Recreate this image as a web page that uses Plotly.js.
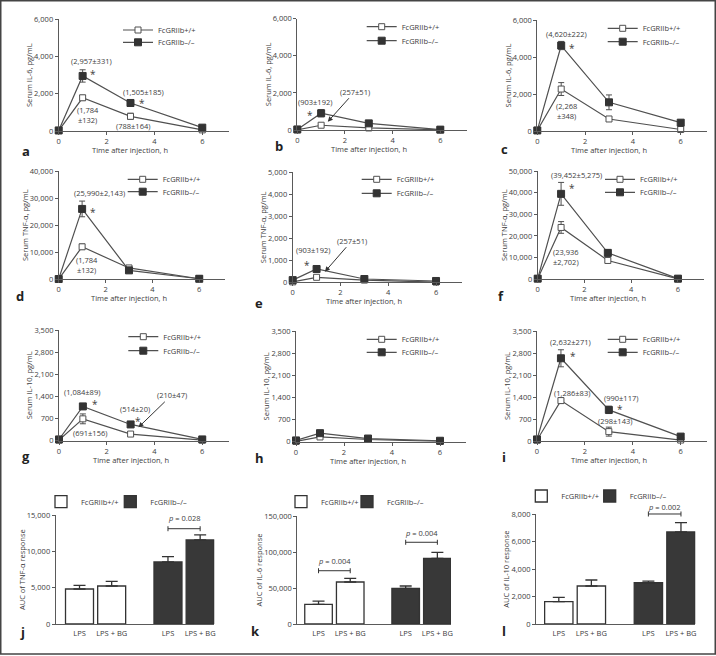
<!DOCTYPE html>
<html><head><meta charset="utf-8">
<script src="https://cdn.plot.ly/plotly-3.0.1.min.js"></script>
<style>body{margin:0;background:#fff}#chart{width:716px;height:656px}</style>
</head><body><div id="chart"></div>
<script>
// ---------- DATA ----------
const hours = [0, 1, 3, 6];
const genotypes = ['FcGRIIb+/+', 'FcGRIIb–/–'];
const xTitle = 'Time after injection, h';

// a: serum IL-6 (col 1)
const il6A_wt = [20, 1784, 788, 60];
const il6A_wtErr = [0, 132, 164, 30];
const il6A_ko = [30, 2957, 1505, 180];
const il6A_koErr = [0, 331, 185, 40];
// b: serum IL-6 (col 2)
const il6B_wt = [10, 257, 110, 10];
const il6B_wtErr = [0, 51, 30, 5];
const il6B_ko = [30, 903, 357, 20];
const il6B_koErr = [0, 192, 60, 10];
// c: serum IL-6 (col 3)
const il6C_wt = [30, 2268, 650, 80];
const il6C_wtErr = [0, 348, 100, 40];
const il6C_ko = [30, 4620, 1550, 450];
const il6C_koErr = [0, 222, 400, 60];
// d: serum TNF-α (col 1)
const tnfD_wt = [100, 12000, 4200, 200];
const tnfD_wtErr = [0, 1000, 500, 100];
const tnfD_ko = [100, 25990, 3300, 200];
const tnfD_koErr = [0, 2900, 700, 100];
// e: serum TNF-α (col 2)
const tnfE_wt = [20, 227, 100, 10];
const tnfE_wtErr = [0, 40, 20, 5];
const tnfE_ko = [100, 605, 150, 60];
const tnfE_koErr = [0, 60, 30, 10];
// f: serum TNF-α (col 3)
const tnfF_wt = [300, 23936, 8700, 200];
const tnfF_wtErr = [0, 2702, 800, 100];
const tnfF_ko = [300, 39452, 12200, 300];
const tnfF_koErr = [0, 5275, 1500, 100];
// g: serum IL-10 (col 1)
const il10G_wt = [20, 691, 210, 20];
const il10G_wtErr = [0, 156, 47, 10];
const il10G_ko = [40, 1084, 514, 40];
const il10G_koErr = [0, 89, 20, 10];
// h: serum IL-10 (col 2)
const il10H_wt = [10, 150, 70, 10];
const il10H_wtErr = [0, 30, 15, 5];
const il10H_ko = [40, 270, 100, 30];
const il10H_koErr = [0, 50, 15, 5];
// i: serum IL-10 (col 3)
const il10I_wt = [30, 1286, 298, 30];
const il10I_wtErr = [0, 83, 143, 10];
const il10I_ko = [50, 2632, 990, 140];
const il10I_koErr = [0, 271, 117, 40];

// j-l: AUC bar charts
const barCats = ['LPS', 'LPS + BG'];
const aucTNF_wt = [4830, 5245];
const aucTNF_wtErr = [500, 640];
const aucTNF_ko = [8560, 11600];
const aucTNF_koErr = [740, 690];
const aucIL6_wt = [27300, 58300];
const aucIL6_wtErr = [4600, 5100];
const aucIL6_ko = [49500, 91200];
const aucIL6_koErr = [3300, 8300];
const aucIL10_wt = [1630, 2770];
const aucIL10_wtErr = [315, 440];
const aucIL10_ko = [3010, 6710];
const aucIL10_koErr = [120, 680];

// value labels written on the figure
const notesA = [[1.38, 3761, '(2,957±331)'], [1.45, 3187, '*'], [3.56, 2080, '(1,505±185)'], [3.47, 1628, '*'], [1.24, 876, '(1,784<br>±132)'], [3.12, 285, '(788±164)']];
const notesB = [[0.74, 1526, '(903±192)'], [0.53, 933, '*']];
const notesC = [[1.23, 5243, '(4,620±222)'], [1.45, 4595, '*'], [1.23, 1108, '(2,268<br>±348)']];
const notesD = [[1.73, 31986, '(25,990±2,143)'], [1.45, 25600, '*'], [1.22, 5466, '(1,784<br>±132)']];
const notesE = [[0.84, 1468, '(903±192)'], [0.59, 891, '*']];
const notesF = [[1.64, 48153, '(39,452±5,275)'], [1.45, 43075, '*'], [1.21, 10434, '(23,936<br>±2,702)']];
const notesG = [[0.95, 1550, '(1,084±89)'], [1.51, 1233, '*'], [3.18, 993, '(514±20)'], [3.32, 686, '*'], [1.31, 234, '(691±156)']];
const notesH = [];
const notesI = [[1.38, 3160, '(2,632±271)'], [1.52, 2768, '*'], [1.45, 1537, '(1,286±83)'], [3.5, 1378, '(990±117)'], [3.46, 1072, '*'], [3.27, 636, '(298±143)']];
const arrowsB = [[1.28, 447, '(257±51)', 27, -30]];
const arrowsE = [[1.35, 482, '(257±51)', 27, -31]];
const arrowsG = [[3.33, 424, '(210±47)', 33, -32]];

// ---------- LAYOUT / STYLE ----------
const W = 716, H = 656;
const FONT = '"Open Sans", sans-serif';
const TXT = '#3c3c3c', AXC = '#5a5a5a', DARK = '#333333', LINEC = '#505050';
const fx = px => px / W;
const fy = py => 1 - py / H;

const linePanels = [
  {lab: 'a', wt: il6A_wt, wtErr: il6A_wtErr, ko: il6A_ko, koErr: il6A_koErr, ymax: 6000, dtick: 2000, ytitle: 'Serum IL-6, pg/mL', px: [58.7, 228.6], py: [19.3, 131], leg: [158, 30, 42.3], labPos: [26, 150.5], notes: notesA, arrows: []},
  {lab: 'b', wt: il6B_wt, wtErr: il6B_wtErr, ko: il6B_ko, koErr: il6B_koErr, ymax: 6000, dtick: 2000, ytitle: 'Serum IL-6, pg/mL', px: [297.3, 466.5], py: [18.7, 130], leg: [401.7, 26.7, 40.7], labPos: [278.5, 145.5], notes: notesB, arrows: arrowsB},
  {lab: 'c', wt: il6C_wt, wtErr: il6C_wtErr, ko: il6C_ko, koErr: il6C_koErr, ymax: 6000, dtick: 2000, ytitle: 'Serum IL-6, pg/mL', px: [537.3, 707], py: [20, 131], leg: [642.7, 28.3, 41.7], labPos: [504, 149], notes: notesC, arrows: []},
  {lab: 'd', wt: tnfD_wt, wtErr: tnfD_wtErr, ko: tnfD_ko, koErr: tnfD_koErr, ymax: 40000, dtick: 10000, ytitle: 'Serum TNF-α, pg/mL', px: [58.7, 225], py: [171, 279.3], leg: [162.7, 179.3, 191.7], labPos: [19.7, 295.5], notes: notesD, arrows: []},
  {lab: 'e', wt: tnfE_wt, wtErr: tnfE_wtErr, ko: tnfE_ko, koErr: tnfE_koErr, ymax: 5000, dtick: 1000, ytitle: 'Serum TNF-α, pg/mL', px: [292.7, 462.3], py: [172.3, 282.3], leg: [396.7, 179.3, 193.3], labPos: [259, 303], notes: notesE, arrows: arrowsE},
  {lab: 'f', wt: tnfF_wt, wtErr: tnfF_wtErr, ko: tnfF_ko, koErr: tnfF_koErr, ymax: 50000, dtick: 10000, ytitle: 'Serum TNF-α, pg/mL', px: [537.7, 703.7], py: [171, 279.3], leg: [640, 179.3, 192.3], labPos: [501.3, 295.5], notes: notesF, arrows: []},
  {lab: 'g', wt: il10G_wt, wtErr: il10G_wtErr, ko: il10G_ko, koErr: il10G_koErr, ymax: 3500, dtick: 700, ytitle: 'Serum IL-10, pg/mL', px: [59, 228.5], py: [330, 440.7], leg: [163.3, 336.7, 350.7], labPos: [26, 456], notes: notesG, arrows: arrowsG},
  {lab: 'h', wt: il10H_wt, wtErr: il10H_wtErr, ko: il10H_ko, koErr: il10H_koErr, ymax: 3500, dtick: 700, ytitle: 'Serum IL-10, pg/mL', px: [296, 466.4], py: [331, 441.7], leg: [401.7, 339.3, 352.3], labPos: [259.7, 458], notes: notesH, arrows: []},
  {lab: 'i', wt: il10I_wt, wtErr: il10I_wtErr, ko: il10I_ko, koErr: il10I_koErr, ymax: 3500, dtick: 700, ytitle: 'Serum IL-10, pg/mL', px: [537, 707], py: [331, 441], leg: [642.7, 339.3, 352.3], labPos: [503.5, 457], notes: notesI, arrows: []}
];

const barXwt = [1, 2], barXko = [3.75, 4.75];
const barPanels = [
  {lab: 'j', wt: aucTNF_wt, wtErr: aucTNF_wtErr, ko: aucTNF_ko, koErr: aucTNF_koErr, ymax: 15000, dtick: 5000, ytitle: 'AUC of TNF-α response', px: [55.7, 214.3], py: [515.3, 624], xr: [0.26, 5.19], leg: [[81, 501.7], [150.3, 501.7]], labPos: [22.5, 632],
   pv: [{grp: barXko, bracket: 13150, text: 14586, label: '<i>p</i> = 0.028'}]},
  {lab: 'k', wt: aucIL6_wt, wtErr: aucIL6_wtErr, ko: aucIL6_ko, koErr: aucIL6_koErr, ymax: 150000, dtick: 50000, ytitle: 'AUC of IL-6 response', px: [297.3, 451], py: [516, 624], xr: [0.33, 5.18], leg: [[321, 501.7], [387, 501.7]], labPos: [255, 631],
   pv: [{grp: barXwt, bracket: 74000, text: 87500, label: '<i>p</i> = 0.004'}, {grp: barXko, bracket: 113500, text: 126000, label: '<i>p</i> = 0.004'}]},
  {lab: 'l', wt: aucIL10_wt, wtErr: aucIL10_wtErr, ko: aucIL10_ko, koErr: aucIL10_koErr, ymax: 8000, dtick: 2000, ytitle: 'AUC of IL-10 response', px: [536, 695.3], py: [514.3, 624], xr: [0.3, 5.19], leg: [[561.3, 496], [629.7, 496]], labPos: [504, 631],
   pv: [{grp: barXko, bracket: 8022, text: 8554, label: '<i>p</i> = 0.002'}]}
];

const traces = [];
const layout = {
  width: W, height: H,
  margin: {l: 0, r: 0, t: 0, b: 0, autoexpand: false},
  paper_bgcolor: '#ffffff', plot_bgcolor: 'rgba(0,0,0,0)',
  font: {family: FONT, size: 7.5, color: TXT},
  showlegend: true,
  annotations: [], shapes: []
};
const txtFont = (s) => ({family: FONT, size: s || 7.5, color: TXT});

let legendCount = 0;
function addLegend(textX, cy) {
  legendCount++;
  const id = legendCount === 1 ? 'legend' : 'legend' + legendCount;
  layout[id] = {x: fx(textX - 40), y: fy(cy - 14.5), xanchor: 'left', yanchor: 'top',
    bgcolor: 'rgba(0,0,0,0)', borderwidth: 0, font: txtFont(7.5)};
  return id;
}
function axisBase() {
  return {showline: true, linecolor: AXC, linewidth: 1, ticks: 'outside', ticklen: 3, tickwidth: 1,
    tickcolor: AXC, showgrid: false, zeroline: false, tickfont: txtFont(7.5), automargin: false, fixedrange: true};
}
function ids(n) {
  const s = n === 1 ? '' : String(n);
  return {xa: 'x' + s, ya: 'y' + s, xk: 'xaxis' + s, yk: 'yaxis' + s};
}
function panelLabel(p) {
  layout.annotations.push({xref: 'paper', yref: 'paper', x: fx(p.labPos[0]), y: fy(p.labPos[1]),
    xanchor: 'center', yanchor: 'middle', showarrow: false, text: '<b>' + p.lab + '</b>',
    font: {family: FONT, size: 13, color: '#222'}});
}

linePanels.forEach((p, i) => {
  const {xa, ya, xk, yk} = ids(i + 1);
  layout[xk] = Object.assign(axisBase(), {domain: [fx(p.px[0]), fx(p.px[1])], range: [0, 7.1], tickvals: [0, 2, 4, 6], anchor: ya});
  layout[yk] = Object.assign(axisBase(), {domain: [fy(p.py[1]), fy(p.py[0])], range: [0, p.ymax], tick0: 0, dtick: p.dtick,
    tickformat: ',d', anchor: xa, title: {text: p.ytitle, font: txtFont(7.5), standoff: 0}});
  traces.push({type: 'scatter', mode: 'lines+markers', x: hours, y: p.wt, name: genotypes[0], xaxis: xa, yaxis: ya,
    legend: addLegend(p.leg[0], p.leg[1]), cliponaxis: false,
    line: {color: LINEC, width: 1.2},
    marker: {symbol: 'square', size: 6, color: '#ffffff', line: {color: LINEC, width: 1}},
    error_y: {type: 'data', array: p.wtErr, color: LINEC, thickness: 1, width: 3}});
  traces.push({type: 'scatter', mode: 'lines+markers', x: hours, y: p.ko, name: genotypes[1], xaxis: xa, yaxis: ya,
    legend: addLegend(p.leg[0], p.leg[2]), cliponaxis: false,
    line: {color: LINEC, width: 1.2},
    marker: {symbol: 'square', size: 7, color: DARK, line: {color: DARK, width: 1}},
    error_y: {type: 'data', array: p.koErr, color: LINEC, thickness: 1, width: 3}});
  p.notes.forEach(([x, y, t]) => {
    const star = t === '*';
    layout.annotations.push({xref: xa, yref: ya, x: x, y: y, text: t, showarrow: false,
      xanchor: 'center', yanchor: 'middle', align: 'center', yshift: star ? -2 : 0, font: txtFont(star ? 10 : 7.5)});
  });
  p.arrows.forEach(([x, y, t, ax, ay]) => {
    layout.annotations.push({xref: xa, yref: ya, x: x, y: y, text: t, showarrow: true, ax: ax, ay: ay,
      arrowhead: 2, arrowsize: 1, arrowwidth: 1, arrowcolor: '#333', standoff: 0, font: txtFont(7.5)});
  });
  layout.annotations.push({xref: xa, yref: ya + ' domain', x: 3, y: 0, yshift: -19, text: xTitle, showarrow: false,
    xanchor: 'center', yanchor: 'middle', font: txtFont(7.5)});
  panelLabel(p);
});

barPanels.forEach((p, j) => {
  const n = linePanels.length + j + 1;
  const {xa, ya, xk, yk} = ids(n);
  const plotH = p.py[1] - p.py[0];
  layout[xk] = Object.assign(axisBase(), {domain: [fx(p.px[0]), fx(p.px[1])], range: p.xr, anchor: ya,
    ticks: '', tickvals: barXwt.concat(barXko), ticktext: barCats.concat(barCats), ticklabelstandoff: 2});
  layout[yk] = Object.assign(axisBase(), {domain: [fy(p.py[1]), fy(p.py[0])], range: [0, p.ymax], tick0: 0, dtick: p.dtick,
    tickformat: ',d', anchor: xa, title: {text: p.ytitle, font: txtFont(7.5), standoff: 0}});
  traces.push({type: 'bar', x: barXwt, y: p.wt, width: 0.87, name: genotypes[0], xaxis: xa, yaxis: ya,
    legend: addLegend(p.leg[0][0], p.leg[0][1]),
    marker: {color: '#ffffff', line: {color: DARK, width: 1.3}},
    error_y: {type: 'data', symmetric: false, array: p.wtErr, arrayminus: [0, 0], color: DARK, thickness: 1.3, width: 6}});
  traces.push({type: 'bar', x: barXko, y: p.ko, width: 0.87, name: genotypes[1], xaxis: xa, yaxis: ya,
    legend: addLegend(p.leg[1][0], p.leg[1][1]),
    marker: {color: '#383838', line: {color: DARK, width: 1.3}},
    error_y: {type: 'data', symmetric: false, array: p.koErr, arrayminus: [0, 0], color: DARK, thickness: 1.3, width: 6}});
  p.pv.forEach(pv => {
    const yb = pv.bracket / p.ymax, cap = 2.5 / plotH;
    const sl = {type: 'line', xref: xa, yref: ya + ' domain', line: {color: DARK, width: 1}};
    layout.shapes.push(Object.assign({}, sl, {x0: pv.grp[0], x1: pv.grp[1], y0: yb, y1: yb}));
    layout.shapes.push(Object.assign({}, sl, {x0: pv.grp[0], x1: pv.grp[0], y0: yb - cap, y1: yb + cap}));
    layout.shapes.push(Object.assign({}, sl, {x0: pv.grp[1], x1: pv.grp[1], y0: yb - cap, y1: yb + cap}));
    layout.annotations.push({xref: xa, yref: ya + ' domain', x: (pv.grp[0] + pv.grp[1]) / 2, y: pv.text / p.ymax,
      text: pv.label, showarrow: false, xanchor: 'center', yanchor: 'middle', font: txtFont(7.5)});
  });
  panelLabel(p);
});

// figure frame
layout.shapes.push({type: 'rect', xref: 'paper', yref: 'paper', x0: fx(0.75), x1: fx(715.25), y0: fy(654), y1: fy(0.75),
  line: {color: '#444', width: 1.5}, fillcolor: 'rgba(0,0,0,0)'});

Plotly.newPlot('chart', traces, layout, {staticPlot: true, displayModeBar: false});
</script>
</body></html>
